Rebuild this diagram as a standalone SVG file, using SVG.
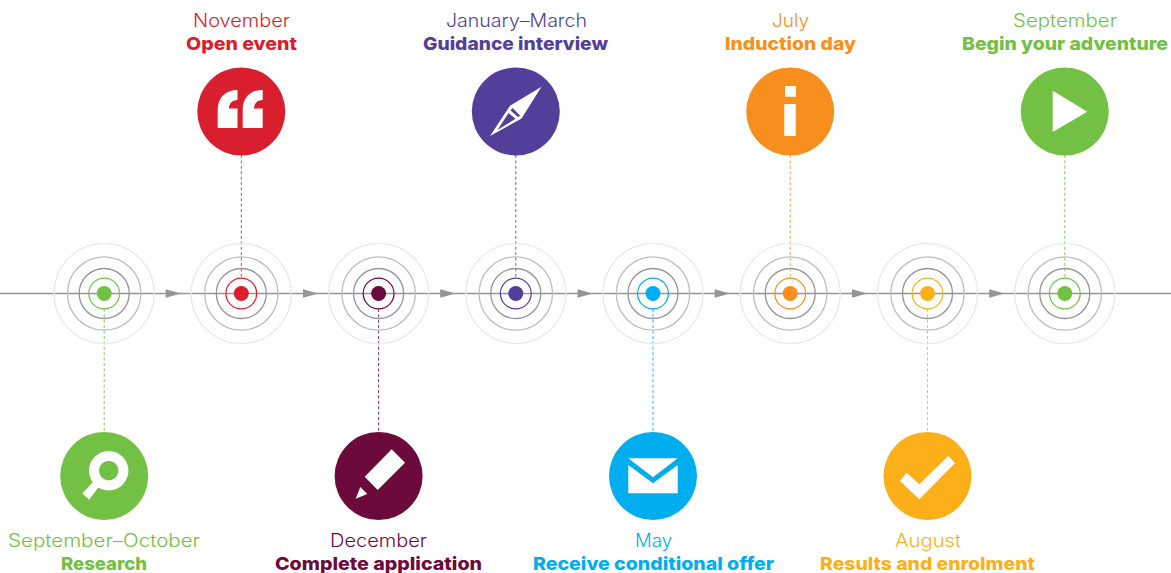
<svg xmlns="http://www.w3.org/2000/svg" width="1171" height="573" viewBox="0 0 1171 573">
<style>
text{font-family:"Inter","Liberation Sans",sans-serif;font-size:18px;text-anchor:start}
.m{font-weight:300}
.b{font-weight:800}
.r1{fill:none;stroke:#e6e7e8;stroke-width:1.2}
.r2{fill:none;stroke:#bcbec0;stroke-width:1.3}
.r3{fill:none;stroke:#939598;stroke-width:1.3}
.c{fill:none;stroke-width:1.2}
.d{fill:none;stroke-width:1;stroke-dasharray:3 2.4;opacity:.85}
.w{fill:#fff}
.axis{stroke:#939598;stroke-width:1.3;fill:none}
.a{fill:#939598}
</style>
<defs>
<g id="rings"><circle class="r1" r="50"/><circle class="r2" r="36.7"/><circle class="r3" r="25"/></g>
</defs>
<g id="connectors">
<line class="axis" x1="0" y1="293.5" x2="1171" y2="293.5"/>
<path class="a" id="arrowheads" d="M165.7 289.2L181 293.5L165.7 297.8ZM303 289.2L318.3 293.5L303 297.8ZM440.2 289.2L455.5 293.5L440.2 297.8ZM577.5 289.2L592.8 293.5L577.5 297.8ZM714.7 289.2L730 293.5L714.7 297.8ZM852 289.2L867.3 293.5L852 297.8ZM989.2 289.2L1004.5 293.5L989.2 297.8Z"/>
<line class="d" stroke="#72c044" x1="104.2" y1="309" x2="104.2" y2="432"/>
<line class="d" stroke="#d91f2e" x1="241.3" y1="155" x2="241.3" y2="278"/>
<line class="d" stroke="#6d0a3c" x1="378.6" y1="309" x2="378.6" y2="432"/>
<line class="d" stroke="#533f99" x1="515.8" y1="155" x2="515.8" y2="278"/>
<line class="d" stroke="#00aeef" x1="653" y1="309" x2="653" y2="432"/>
<line class="d" stroke="#f78e1e" x1="790.2" y1="155" x2="790.2" y2="278"/>
<line class="d" stroke="#fbb01a" x1="927.5" y1="309" x2="927.5" y2="432"/>
<line class="d" stroke="#72c044" x1="1064.8" y1="155" x2="1064.8" y2="278"/>
</g>
<g id="n1">
<use href="#rings" x="104.2" y="293.5"/><circle class="c" stroke="#72c044" cx="104.2" cy="293.5" r="15.4"/><circle fill="#72c044" cx="104.2" cy="293.5" r="7.5"/>
<circle fill="#72c044" cx="104.2" cy="476" r="44"/>
<path class="w" fill-rule="evenodd" d="M108.7 451a19.7 19.7 0 1 1-.01 0ZM108.7 461a9.7 9.7 0 1 0 .01 0Z"/>
<path class="w" d="M82.3 493.3L89 499.7L99 486.7L93.3 481.7Z"/>
<text class="m" fill="#72c044" x="8" y="547" textLength="192" lengthAdjust="spacingAndGlyphs">September–October</text>
<text class="b" fill="#72c044" x="61" y="569.5" textLength="86" lengthAdjust="spacingAndGlyphs">Research</text>
</g>
<g id="n2">
<use href="#rings" x="241.3" y="293.5"/><circle class="c" stroke="#d91f2e" cx="241.3" cy="293.5" r="15.4"/><circle fill="#d91f2e" cx="241.3" cy="293.5" r="7.5"/>
<circle fill="#d91f2e" cx="241.3" cy="111.5" r="44"/>
<path class="w" d="M237.5 90C225 90 217.7 98 217.7 110V128H237.5V108.5H229C229 104 232 100 237.5 100ZM262.7 90C250 90 242.7 98 242.7 110V128H262.7V108.5H254C254 104 257 100 262.7 100Z"/>
<text class="m" fill="#d91f2e" x="193" y="27.3" textLength="97" lengthAdjust="spacingAndGlyphs">November</text>
<text class="b" fill="#d91f2e" x="186" y="50.3" textLength="111" lengthAdjust="spacingAndGlyphs">Open event</text>
</g>
<g id="n3">
<use href="#rings" x="378.6" y="293.5"/><circle class="c" stroke="#6d0a3c" cx="378.6" cy="293.5" r="15.4"/><circle fill="#6d0a3c" cx="378.6" cy="293.5" r="7.5"/>
<circle fill="#6d0a3c" cx="378.6" cy="476" r="44"/>
<path class="w" d="M391.7 449.3L405 462.7L377.7 490L364.7 476.7ZM360.3 487L367.3 494L355.7 498.7Z"/>
<text class="m" fill="#6d0a3c" x="330" y="547" textLength="97" lengthAdjust="spacingAndGlyphs">December</text>
<text class="b" fill="#6d0a3c" x="275" y="569.5" textLength="207" lengthAdjust="spacingAndGlyphs">Complete application</text>
</g>
<g id="n4">
<use href="#rings" x="515.8" y="293.5"/><circle class="c" stroke="#533f99" cx="515.8" cy="293.5" r="15.4"/><circle fill="#533f99" cx="515.8" cy="293.5" r="7.5"/>
<circle fill="#533f99" cx="515.8" cy="111.5" r="44"/>
<path class="w" fill-rule="evenodd" d="M541.5 86.8L510 105.7L490 136L521.5 118.5ZM512.5 108L520.3 115.8L518 117L510.5 110.5ZM508.5 113L515.5 118.7L497.5 130Z"/>
<text class="m" fill="#533f99" x="446" y="27.3" textLength="141" lengthAdjust="spacingAndGlyphs">January–March</text>
<text class="b" fill="#533f99" x="423" y="50.3" textLength="185" lengthAdjust="spacingAndGlyphs">Guidance interview</text>
</g>
<g id="n5">
<use href="#rings" x="653" y="293.5"/><circle class="c" stroke="#00aeef" cx="653" cy="293.5" r="15.4"/><circle fill="#00aeef" cx="653" cy="293.5" r="7.5"/>
<circle fill="#00aeef" cx="653" cy="476" r="44"/>
<path class="w" d="M628.3 458.3H677.7L653 477.3ZM628.3 465L653 483.3L677.7 465V493.3H628.3Z"/>
<text class="m" fill="#00aeef" x="635" y="547" textLength="37" lengthAdjust="spacingAndGlyphs">May</text>
<text class="b" fill="#00aeef" x="533" y="569.5" textLength="241" lengthAdjust="spacingAndGlyphs">Receive conditional offer</text>
</g>
<g id="n6">
<use href="#rings" x="790.2" y="293.5"/><circle class="c" stroke="#f78e1e" cx="790.2" cy="293.5" r="15.4"/><circle fill="#f78e1e" cx="790.2" cy="293.5" r="7.5"/>
<circle fill="#f78e1e" cx="790.2" cy="111.5" r="44"/>
<path class="w" d="M785 86H796V96.7H785ZM784.3 104H795.7V136H784.3Z"/>
<text class="m" fill="#f78e1e" x="772" y="27.3" textLength="37" lengthAdjust="spacingAndGlyphs">July</text>
<text class="b" fill="#f78e1e" x="725" y="50.3" textLength="131" lengthAdjust="spacingAndGlyphs">Induction day</text>
</g>
<g id="n7">
<use href="#rings" x="927.5" y="293.5"/><circle class="c" stroke="#fbb01a" cx="927.5" cy="293.5" r="15.4"/><circle fill="#fbb01a" cx="927.5" cy="293.5" r="7.5"/>
<circle fill="#fbb01a" cx="927.5" cy="476" r="44"/>
<path class="w" d="M900 481L906.7 472.7L919.3 484.3L948.3 456L955 463L919.3 499.3Z"/>
<text class="m" fill="#fbb01a" x="895" y="547" textLength="66" lengthAdjust="spacingAndGlyphs">August</text>
<text class="b" fill="#fbb01a" x="820" y="569.5" textLength="215" lengthAdjust="spacingAndGlyphs">Results and enrolment</text>
</g>
<g id="n8">
<use href="#rings" x="1064.8" y="293.5"/><circle class="c" stroke="#72c044" cx="1064.8" cy="293.5" r="15.4"/><circle fill="#72c044" cx="1064.8" cy="293.5" r="7.5"/>
<circle fill="#72c044" cx="1064.8" cy="111.5" r="44"/>
<path class="w" d="M1052.7 90.7L1087.3 111.7L1052.7 132Z"/>
<text class="m" fill="#72c044" x="1013" y="27.3" textLength="104" lengthAdjust="spacingAndGlyphs">September</text>
<text class="b" fill="#72c044" x="962" y="50.3" textLength="206" lengthAdjust="spacingAndGlyphs">Begin your adventure</text>
</g>
</svg>
